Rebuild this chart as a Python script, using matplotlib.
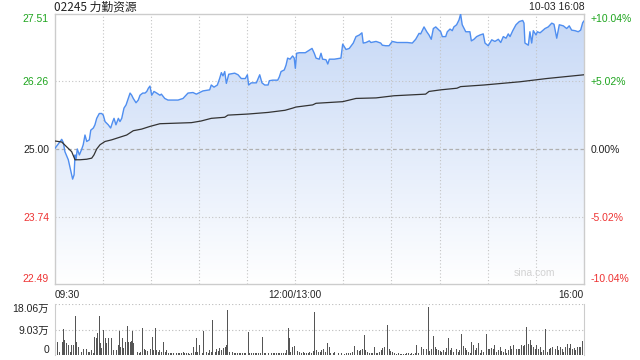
import matplotlib
matplotlib.use("Agg")
import matplotlib.pyplot as plt
import numpy as np
from matplotlib.colors import LinearSegmentedColormap

# 分时数据 (分钟, 价格), 0 = 09:30, 150 = 12:00/13:00, 330 = 16:00
price_pts = [(0, 25.00), (4.5, 25.18), (5.5, 25.12), (6.5, 24.95), (8.6, 24.80), (11.3, 24.44),
             (12.2, 24.52), (12.8, 24.89), (13.4, 24.80), (14.2, 25.00), (15.5, 24.89), (17.0, 25.00),
             (17.9, 25.08), (19.0, 25.26), (20.1, 25.14), (21.7, 25.17), (22.6, 25.35), (24.2, 25.39),
             (25.2, 25.45), (26.3, 25.57), (27.9, 25.66), (29.4, 25.66), (30.4, 25.63), (31.5, 25.51),
             (33.5, 25.45), (35.0, 25.39), (36.3, 25.51), (37.1, 25.57), (38.3, 25.45), (39.8, 25.57),
             (40.8, 25.51), (41.9, 25.57), (43.3, 25.76), (44.6, 25.82), (46.0, 25.94), (47.1, 26.04),
             (48.1, 26.00), (49.1, 25.94), (50.8, 25.86), (52.2, 25.91), (53.3, 26.00), (55.0, 26.04),
             (56.4, 26.04), (57.5, 26.07), (58.5, 26.13), (59.5, 26.17), (60.6, 26.00), (62.0, 26.07),
             (63.7, 26.04), (65.7, 26.00), (66.6, 26.02), (68.7, 25.94), (70.7, 25.91), (73.8, 25.91),
             (77.0, 25.91), (80.1, 25.94), (83.2, 26.04), (86.3, 26.05), (88.4, 26.02), (90.5, 26.05),
             (92.5, 26.08), (96.7, 26.10), (97.7, 26.19), (99.4, 26.15), (101.5, 26.19), (102.9, 26.31),
             (104.0, 26.42), (105.0, 26.36), (106.1, 26.44), (107.1, 26.22), (108.6, 26.39), (112.3, 26.41),
             (114.4, 26.38), (116.4, 26.31), (118.9, 26.31), (120.2, 26.38), (121.0, 26.19), (122.6, 26.23),
             (125.8, 26.23), (126.8, 26.30), (127.9, 26.38), (129.3, 26.23), (131.0, 26.19), (133.1, 26.19),
             (133.9, 26.27), (136.0, 26.28), (139.1, 26.28), (140.1, 26.34), (141.2, 26.44), (143.2, 26.47),
             (144.3, 26.56), (145.3, 26.69), (146.8, 26.67), (148.4, 26.73), (149.4, 26.69), (150.1, 26.50),
             (150.9, 26.78), (152.6, 26.79), (156.3, 26.79), (158.4, 26.83), (160.5, 26.87), (161.9, 26.78),
             (163.0, 26.69), (165.0, 26.67), (166.1, 26.78), (167.1, 26.67), (169.2, 26.66), (170.3, 26.58),
             (171.3, 26.67), (174.4, 26.67), (178.5, 26.69), (179.6, 26.95), (181.7, 26.85), (183.7, 26.87),
             (186.2, 26.97), (187.9, 27.09), (190.0, 27.12), (191.6, 27.16), (192.4, 26.97), (194.1, 26.98),
             (196.2, 27.01), (197.2, 26.98), (200.4, 27.00), (203.3, 26.97), (204.3, 26.93), (206.4, 26.92),
             (208.5, 26.92), (210.5, 27.00), (213.5, 26.98), (219.9, 26.98), (223.0, 26.97), (225.1, 27.04),
             (227.2, 27.15), (228.2, 27.14), (230.3, 27.27), (232.0, 27.18), (233.4, 27.12), (234.8, 27.04),
             (236.1, 27.24), (237.6, 27.27), (239.0, 27.23), (240.7, 27.18), (241.7, 27.09), (243.8, 27.09),
             (244.8, 27.18), (246.5, 27.23), (247.9, 27.20), (248.9, 27.27), (250.6, 27.31), (252.1, 27.40),
             (253.1, 27.51), (254.1, 27.31), (256.3, 27.18), (258.9, 27.18), (259.8, 27.01), (261.4, 27.04),
             (263.1, 27.09), (265.2, 27.12), (267.2, 27.14), (268.3, 26.97), (270.3, 26.92), (272.5, 27.03),
             (274.5, 27.00), (276.6, 27.04), (278.1, 26.98), (279.7, 27.09), (281.4, 27.06), (282.8, 27.14),
             (283.9, 27.09), (285.6, 27.20), (287.6, 27.31), (289.7, 27.37), (291.8, 27.39), (292.6, 27.34),
             (293.2, 26.97), (295.3, 26.93), (296.3, 27.18), (297.4, 26.97), (298.4, 27.20), (300.1, 27.12),
             (300.9, 27.18), (302.6, 27.16), (305.7, 27.24), (307.7, 27.27), (309.9, 27.34), (311.3, 27.32),
             (313.0, 27.06), (314.6, 27.31), (317.1, 27.29), (319.2, 27.24), (320.8, 27.29), (322.3, 27.21),
             (324.4, 27.20), (326.4, 27.18), (327.9, 27.21), (329.2, 27.35), (330, 27.38)]

# 均价线
avg_pts = [(0, 25.15), (4.5, 25.13), (7.6, 25.04), (10.7, 24.95), (12.8, 24.80), (15.9, 24.80),
           (20.1, 24.81), (23.2, 24.83), (24.6, 24.89), (26.3, 25.00), (28.4, 25.08), (31.5, 25.14),
           (35.6, 25.17), (40.8, 25.22), (45.0, 25.26), (49.1, 25.34), (54.3, 25.37), (59.5, 25.42),
           (65.7, 25.47), (85.3, 25.49), (91.3, 25.52), (97.7, 25.57), (106.1, 25.59), (108.1, 25.63),
           (120.6, 25.65), (133.1, 25.68), (143.7, 25.72), (148.4, 25.76), (150.5, 25.78), (160.9, 25.82),
           (163.0, 25.85), (179.6, 25.88), (187.9, 25.94), (200.4, 25.95), (211.6, 25.99), (231.3, 26.02),
           (233.4, 26.07), (240.7, 26.10), (250.8, 26.13), (253.1, 26.16), (267.7, 26.19), (290.1, 26.25),
           (306.7, 26.31), (330, 26.38)]

# 成交量 (分钟, 万股)
vol_pts = [(0.3, 3.0), (1.8, 4.75), (3.4, 1.2), (4.9, 4.75), (5.5, 9.15), (6.5, 5.35), (7.6, 4.4),
           (8.6, 3.56), (9.7, 1.2), (10.7, 3.56), (11.7, 3.56), (13.0, 13.9), (13.8, 4.75), (14.8, 2.7),
           (15.9, 4.75), (16.9, 1.2), (18.0, 2.0), (19.0, 0.8), (20.1, 2.0), (21.1, 1.2), (22.1, 1.2),
           (23.2, 1.8), (24.2, 0.8), (25.2, 6.3), (26.3, 5.9), (26.9, 7.7), (27.9, 13.9), (28.8, 4.2),
           (29.4, 2.4), (30.4, 8.9), (31.5, 5.9), (32.5, 4.2), (33.5, 5.9), (34.6, 2.4), (35.6, 5.9),
           (36.6, 1.8), (37.7, 5.9), (38.8, 1.8), (39.8, 3.6), (40.4, 8.55), (41.2, 3.0), (42.5, 5.9),
           (43.3, 2.4), (44.4, 4.75), (45.4, 10.3), (46.2, 4.75), (47.1, 4.75), (48.1, 5.1), (48.7, 8.55),
           (49.5, 4.4), (50.8, 1.8), (51.6, 1.2), (52.9, 0.8), (53.7, 1.2), (55.0, 9.5), (55.8, 2.0),
           (57.0, 1.8), (57.8, 1.5), (58.9, 1.2), (59.9, 2.0), (60.8, 6.5), (61.6, 1.8), (62.8, 9.5),
           (63.7, 1.8), (64.7, 1.2), (65.7, 1.8), (66.8, 1.2), (67.8, 4.75), (68.9, 1.2), (69.9, 1.8),
           (70.9, 0.8), (72.0, 0.6), (73.0, 0.8), (74.0, 0.6), (75.1, 1.4), (76.2, 0.6), (77.2, 0.6),
           (78.2, 0.8), (79.3, 0.6), (80.3, 1.2), (81.3, 0.6), (82.4, 0.6), (83.4, 0.6), (84.4, 0.4),
           (85.5, 0.6), (86.5, 2.7), (87.6, 1.2), (88.2, 5.9), (89.2, 1.2), (90.2, 3.6), (91.3, 2.4),
           (92.1, 0.6), (92.7, 8.55), (93.8, 5.35), (94.8, 1.2), (95.8, 0.6), (96.9, 1.8), (98.0, 1.2),
           (98.6, 12.5), (99.4, 1.8), (100.5, 1.2), (101.1, 2.0), (102.1, 1.5), (103.1, 2.4), (104.2, 1.8),
           (105.2, 2.4), (106.3, 3.0), (107.1, 3.6), (107.9, 16.0), (108.9, 1.2), (110.0, 0.6), (111.0, 1.2),
           (112.1, 0.8), (113.1, 0.8), (114.2, 0.6), (115.2, 0.8), (116.2, 0.6), (117.3, 0.6), (118.3, 0.8),
           (119.3, 0.6), (120.8, 8.0), (121.8, 0.6), (122.9, 0.6), (123.9, 0.6), (125.0, 0.6), (126.0, 0.6),
           (127.0, 0.6), (128.1, 0.6), (129.5, 6.2), (130.6, 0.6), (131.8, 0.6), (133.2, 0.8), (134.3, 2.6),
           (135.4, 0.6), (136.4, 0.6), (137.4, 0.6), (138.5, 0.6), (139.5, 0.6), (140.5, 0.6), (141.6, 0.6),
           (142.6, 0.6), (143.7, 0.8), (144.7, 1.8), (145.7, 9.7), (146.3, 5.9), (147.2, 1.2), (148.4, 2.7),
           (149.4, 3.2), (150.5, 18.06), (151.3, 1.5), (152.6, 1.2), (154.1, 0.8), (155.1, 1.2), (156.1, 0.6),
           (157.2, 0.6), (158.2, 0.8), (159.2, 1.2), (160.3, 0.8), (161.3, 1.4), (162.3, 15.4), (163.4, 1.8),
           (164.4, 1.2), (165.5, 1.2), (166.5, 1.8), (167.6, 2.1), (168.6, 1.2), (170.1, 4.4), (171.1, 2.7),
           (172.1, 0.6), (173.8, 0.6), (174.8, 1.2), (176.9, 0.6), (179.0, 0.8), (180.5, 0.4), (181.7, 0.6),
           (183.2, 0.6), (184.6, 0.8), (185.9, 1.2), (186.9, 3.2), (187.9, 8.3), (188.8, 1.8), (189.8, 1.4),
           (190.8, 1.8), (191.9, 2.0), (193.1, 7.1), (194.0, 1.8), (195.0, 1.2), (196.2, 0.6), (197.3, 0.6),
           (198.3, 0.8), (199.4, 2.7), (200.4, 0.8), (201.4, 0.6), (202.5, 1.2), (203.5, 1.8), (204.5, 2.4),
           (205.6, 3.0), (206.6, 1.8), (207.7, 10.7), (208.7, 2.0), (209.7, 1.4), (210.8, 1.2), (211.6, 0.6),
           (212.9, 0.4), (214.3, 0.6), (215.4, 0.4), (216.4, 0.4), (217.4, 0.4), (218.5, 0.4), (219.5, 0.6),
           (220.5, 0.6), (221.6, 0.4), (222.6, 0.6), (223.7, 0.4), (224.7, 0.8), (225.7, 3.6), (226.8, 0.8),
           (227.8, 1.8), (228.8, 2.7), (229.9, 2.0), (230.9, 2.7), (232.0, 2.0), (233.0, 17.0), (234.0, 1.5),
           (235.1, 2.0), (236.1, 6.8), (237.2, 2.7), (238.2, 2.0), (239.2, 1.8), (240.3, 1.4), (241.3, 1.2),
           (242.3, 1.8), (243.4, 1.2), (244.4, 2.4), (245.5, 5.9), (246.5, 1.8), (247.5, 2.4), (248.6, 1.2),
           (249.6, 1.8), (250.7, 2.1), (251.7, 1.2), (252.7, 1.8), (253.8, 7.5), (254.8, 3.2), (255.9, 2.4),
           (256.9, 1.8), (257.9, 1.2), (259.0, 0.8), (260.0, 4.75), (261.0, 3.6), (262.1, 1.8), (263.1, 2.4),
           (264.2, 4.2), (265.2, 0.8), (266.2, 1.8), (267.3, 1.2), (268.3, 1.8), (269.4, 7.5), (270.4, 2.0),
           (271.4, 2.1), (272.5, 2.4), (273.5, 2.0), (274.5, 3.6), (275.6, 1.2), (276.6, 1.8), (277.7, 2.7),
           (278.7, 1.5), (279.7, 1.2), (280.8, 2.0), (281.8, 0.8), (282.9, 1.8), (283.9, 3.2), (284.9, 2.0),
           (286.0, 3.6), (287.0, 1.5), (288.0, 2.0), (289.1, 2.0), (290.1, 2.0), (291.2, 3.6), (292.2, 3.2),
           (293.2, 3.6), (294.3, 9.9), (295.3, 3.9), (296.4, 5.35), (297.4, 3.6), (298.4, 3.0), (299.5, 2.0),
           (300.5, 3.6), (301.5, 2.0), (302.6, 2.7), (303.6, 1.2), (304.7, 1.8), (306.1, 9.15), (307.2, 1.2),
           (308.2, 2.0), (309.2, 2.4), (310.3, 3.0), (311.3, 1.8), (312.3, 2.0), (313.4, 3.2), (314.4, 1.8),
           (315.5, 3.0), (316.5, 2.0), (317.5, 1.2), (318.6, 2.7), (319.6, 3.9), (320.7, 2.4), (321.7, 3.9),
           (322.7, 2.0), (323.8, 2.4), (324.8, 1.8), (325.8, 2.7), (326.9, 3.0), (327.9, 2.7), (329.0, 5.0),
           (330.0, 3.2)]

price_ticks = [22.49, 23.74, 25.00, 26.26, 27.51]
price_labels = ["22.49", "23.74", "25.00", "26.26", "27.51"]
pct_labels = ["-10.04%", "-5.02%", "0.00%", "+5.02%", "+10.04%"]
tick_colors = ["#ee3333", "#ee3333", "#222222", "#1ea51e", "#1ea51e"]
time_ticks = [0, 150, 330]
time_labels = ["09:30", "12:00/13:00", "16:00"]
vol_ticks = [0, 9.03, 18.06]
vol_labels = ["0", "9.03万", "18.06万"]
prev_close = 25.00

fonts = ["Liberation Sans", "Noto Sans CJK SC", "DejaVu Sans"]
plt.rcParams["font.family"] = fonts

pt, pv = zip(*price_pts)
at, av = zip(*avg_pts)
vt, vv = zip(*vol_pts)

fig = plt.figure(figsize=(6.4, 3.6), dpi=100)
ax = fig.add_axes([54.5 / 640, 76 / 360, 529.5 / 640, 270 / 360])
axv = fig.add_axes([54.5 / 640, 5 / 360, 529.5 / 640, 51 / 360])

# 渐变填充
poly = ax.fill_between(pt, pv, price_ticks[0], color="none", lw=0)
cmap = LinearSegmentedColormap.from_list("g", ["#ffffff", "#c6d8f6"])
grad = np.linspace(1, 0, 256).reshape(-1, 1)
im = ax.imshow(grad, extent=[0, 330, price_ticks[0], price_ticks[-1]], aspect="auto",
               cmap=cmap, zorder=1)
im.set_clip_path(poly.get_paths()[0], transform=ax.transData)

ax.plot(pt, pv, color="#4f8ef0", lw=1.0, zorder=4)
ax.plot(at, av, color="#333333", lw=0.9, zorder=4)

ax.set_xlim(0, 330)
ax.set_ylim(price_ticks[0], price_ticks[-1])

for t in range(30, 330, 30):
    ax.axvline(t, color="#c4c4c4", ls=(0, (1, 2)), lw=0.8, zorder=2)
for y in [23.74, 26.26]:
    ax.axhline(y, color="#c4c4c4", ls=(0, (1, 2)), lw=0.8, zorder=2)
ax.axhline(prev_close, color="#b0b0b0", ls=(0, (3, 2)), lw=0.9, zorder=2)

for s in ax.spines.values():
    s.set_color("#cccccc")
    s.set_linewidth(1)

ax.set_yticks(price_ticks)
ax.set_yticklabels(price_labels, fontsize=7.5)
ax.tick_params(axis="y", length=0, pad=4)
for lab, c in zip(ax.get_yticklabels(), tick_colors):
    lab.set_color(c)
ax.get_yticklabels()[0].set_va("bottom")
ax.get_yticklabels()[-1].set_va("top")

ax.set_xticks(time_ticks)
ax.set_xticklabels(time_labels, fontsize=7.2, color="#222222")
ax.tick_params(axis="x", length=0, pad=4)
ax.get_xticklabels()[0].set_ha("left")
ax.get_xticklabels()[-1].set_ha("right")

axr = ax.twinx()
axr.set_ylim(price_ticks[0], price_ticks[-1])
axr.set_yticks(price_ticks)
axr.set_yticklabels(pct_labels, fontsize=7.5)
axr.tick_params(axis="y", length=0, pad=5)
for lab, c in zip(axr.get_yticklabels(), tick_colors):
    lab.set_color(c)
axr.get_yticklabels()[0].set_va("bottom")
axr.get_yticklabels()[-1].set_va("top")
for s in axr.spines.values():
    s.set_visible(False)

ax.text(0.945, 0.022, "sina.com", transform=ax.transAxes, ha="right", va="bottom",
        fontsize=7.5, color="#d2d2d2")

fig.text(54.5 / 640, 1 - 7 / 360, "02245 力勤资源", ha="left", va="center",
         fontsize=8.5, color="#222222", family=["Noto Sans CJK SC", "DejaVu Sans"])
fig.text(585 / 640, 1 - 7 / 360, "10-03 16:08", ha="right", va="center",
         fontsize=7.5, color="#222222")

# 成交量
axv.bar(vt, vv, width=0.6, color="#555555", lw=0)
axv.set_xlim(0, 330)
axv.set_ylim(0, 18.06)
axv.set_xticks([])
axv.set_yticks(vol_ticks)
axv.set_yticklabels(vol_labels, fontsize=7.5, color="#222222")
axv.tick_params(axis="y", length=0, pad=4)
axv.get_yticklabels()[0].set_va("bottom")
axv.get_yticklabels()[-1].set_va("top")
axv.axhline(9.03, color="#bbbbbb", ls=(0, (1, 2)), lw=0.8, zorder=0)
axv.axhline(18.06, color="#bbbbbb", ls=(0, (1, 2)), lw=0.8, zorder=0)
axv.spines["top"].set_visible(False)
axv.spines["bottom"].set_visible(False)
axv.spines["left"].set_color("#cccccc")
axv.spines["right"].set_color("#cccccc")

fig.savefig("out.png", dpi=100)
